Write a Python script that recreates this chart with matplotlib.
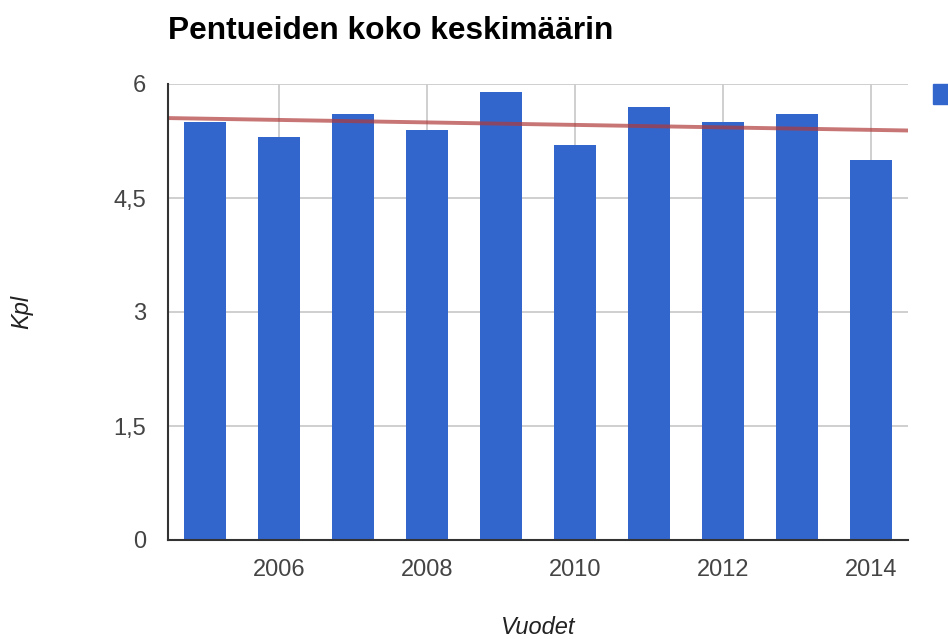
import numpy as np
import matplotlib.pyplot as plt
from matplotlib.patches import Rectangle

years = [2005, 2006, 2007, 2008, 2009, 2010, 2011, 2012, 2013, 2014]
litter_size = [5.5, 5.3, 5.6, 5.4, 5.9, 5.2, 5.7, 5.5, 5.6, 5.0]
y_ticks = [0, 1.5, 3, 4.5, 6]
y_tick_labels = ["0", "1,5", "3", "4,5", "6"]
x_ticks = [2006, 2008, 2010, 2012, 2014]

plt.rcParams['font.family'] = ['Liberation Sans', 'DejaVu Sans']

fig = plt.figure(figsize=(9.48, 6.39), dpi=100)
ax = fig.add_axes([168 / 948, 1 - 540 / 639, 740 / 948, 456 / 639])

ax.bar(years, litter_size, width=0.58, color='#3366cc', zorder=2)

# linear trendline (least squares)
slope, intercept = np.polyfit(years, litter_size, 1)
xs = np.array([2004.5, 2014.5])
ax.plot(xs, slope * xs + intercept, color='#b03a3a', alpha=0.7, lw=2.8, zorder=3)

ax.set_xlim(2004.5, 2014.5)
ax.set_ylim(0, 6)
ax.set_yticks(y_ticks)
ax.set_yticklabels(y_tick_labels)
ax.set_xticks(x_ticks)
ax.set_xticklabels([str(x) for x in x_ticks])
ax.tick_params(length=0, labelsize=17, colors='#444444')
ax.tick_params(axis='y', pad=16)
ax.tick_params(axis='x', pad=14)
ax.grid(True, color='#cccccc', lw=1.3, zorder=0)
ax.set_axisbelow(True)

for s in ['top', 'right']:
    ax.spines[s].set_visible(False)
for s in ['left', 'bottom']:
    ax.spines[s].set_color('#333333')
    ax.spines[s].set_linewidth(1.5)
    ax.spines[s].set_zorder(4)

fig.text(168 / 948, 1 - 31 / 639, "Pentueiden koko keskimäärin", fontsize=22.8,
         fontweight='bold', ha='left', va='center', color='black')
fig.text(538 / 948, 1 - 628 / 639, "Vuodet", fontsize=17, style='italic',
         ha='center', va='center', color='#222222')
fig.text(22 / 948, 1 - 312 / 639, "Kpl", fontsize=17, style='italic',
         rotation=90, ha='center', va='center', color='#222222')

# legend marker, clipped at right edge
fig.patches.append(Rectangle((933 / 948, 1 - 104 / 639), 20 / 948, 20 / 639,
                             transform=fig.transFigure, color='#3366cc'))

fig.savefig('out.png', dpi=100)
